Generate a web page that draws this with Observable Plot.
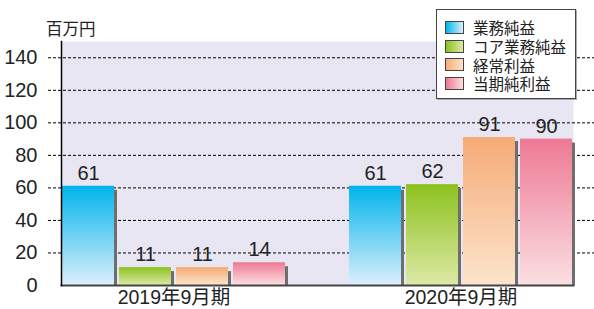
<!DOCTYPE html>
<html>
<head>
<meta charset="utf-8">
<script src="https://cdn.jsdelivr.net/npm/d3@7"></script>
<script src="https://cdn.jsdelivr.net/npm/@observablehq/plot@0.6"></script>
<style>
  html, body { margin: 0; padding: 0; background: #fff; }
  #wrap { position: relative; width: 594px; height: 309px; overflow: hidden; font-family: "Noto Sans CJK JP", "Noto Sans", sans-serif; color: #222; }
  #unit { position: absolute; left: 46px; top: 17px; font-size: 16.5px; line-height: 22px; }
  #legend { position: absolute; left: 436px; top: 9px; width: 138px; height: 80px; background: #fff; border: 1px solid #444; box-shadow: 1px 1px 0 #aaa; padding-top: 8px; box-sizing: content-box; }
  #legend .row { display: flex; align-items: center; height: 18.7px; }
  #legend .sw { width: 17px; height: 11px; border: 1px solid #444; margin-left: 8px; margin-right: 9px; flex: none; }
  #legend .lb { font-size: 15.5px; line-height: 16px; height: 16px; white-space: nowrap; }
</style>
</head>
<body>
<div id="wrap">
  <div id="chart"></div>
  <div id="unit"></div>
  <div id="legend"></div>
</div>
<script>
const periods = ["2019年9月期", "2020年9月期"];
const series = ["業務純益", "コア業務純益", "経常利益", "当期純利益"];
const values2019 = [61, 11, 11, 14];
const values2020 = [61, 62, 91, 90];
const yTicks = [0, 20, 40, 60, 80, 100, 120, 140];
const unitLabel = "百万円";
const topColors = ["#00b5ec", "#8cc21e", "#f5ab77", "#ee7994"];
const bottomColors = ["#ddeffc", "#dde9a6", "#fde4cb", "#fbdfe2"];

const rows = [];
[values2019, values2020].forEach((vals, pi) => {
  vals.forEach((v, si) => rows.push({period: periods[pi], series: series[si], value: v}));
});
const gridTicks = yTicks.filter(d => d > 0);

const font = "'Liberation Sans', 'Noto Sans CJK JP', sans-serif";

const chart = Plot.plot({
  width: 594,
  height: 309,
  marginLeft: 48,
  marginRight: 0,
  marginTop: 41,
  marginBottom: 24,
  style: {fontFamily: font, background: "transparent", color: "#222"},
  fx: {domain: periods, paddingInner: 0.216, paddingOuter: 0.0592, align: 0.38, label: null},
  x: {domain: series, paddingInner: 0.09, paddingOuter: 0, axis: null},
  y: {domain: [0, 150], axis: null},
  color: {domain: series, range: series.map((_, i) => `url(#grad${i})`)},
  marks: [
    Plot.frame({fill: "#e8e6f2", stroke: null, facet: "super"}),
    Plot.ruleY(gridTicks, {y: d => d, fx: () => periods[0], insetLeft: -13, insetRight: -31, stroke: "#000", strokeWidth: 1, strokeDasharray: "3,2"}),
    Plot.ruleY(gridTicks, {y: d => d, fx: () => periods[1], insetLeft: -31, insetRight: -22, stroke: "#000", strokeWidth: 1, strokeDasharray: "3,2"}),
    Plot.barY(rows, {fx: "period", x: "series", y: "value", fill: "#6e6e6e", dx: 3, insetTop: 4}),
    Plot.barY(rows, {fx: "period", x: "series", y: "value", fill: "series"}),
    Plot.text(rows, {fx: "period", x: "series", y: "value", text: d => String(d.value), dy: -13, fontSize: 20, fill: "#222"}),
    Plot.frame({anchor: "bottom", facet: "super", stroke: "#444", strokeWidth: 2}),
    Plot.frame({anchor: "left", facet: "super", stroke: "#000", strokeWidth: 1.5}),
    Plot.text(yTicks, {y: d => d, fx: () => periods[0], text: d => String(d), frameAnchor: "left", textAnchor: "end", dx: -24, fontSize: 20, fill: "#222"}),
    Plot.axisFx({anchor: "bottom", tickSize: 0, tickPadding: 5, fontSize: 19.5, label: null, fill: "#222"})
  ]
});

const svg = d3.select(chart);
const defs = svg.insert("defs", ":first-child");
series.forEach((s, i) => {
  const g = defs.append("linearGradient").attr("id", `grad${i}`).attr("x1", 0).attr("y1", 0).attr("x2", 0).attr("y2", 1);
  g.append("stop").attr("offset", "0%").attr("stop-color", topColors[i]);
  g.append("stop").attr("offset", "100%").attr("stop-color", bottomColors[i]);
});

document.getElementById("chart").appendChild(chart);
document.getElementById("unit").textContent = unitLabel;

const legend = d3.select("#legend");
series.forEach((s, i) => {
  const row = legend.append("div").attr("class", "row");
  row.append("div").attr("class", "sw").style("background", `linear-gradient(to right, ${topColors[i]}, ${bottomColors[i]})`);
  row.append("div").attr("class", "lb").text(s);
});
</script>
</body>
</html>
